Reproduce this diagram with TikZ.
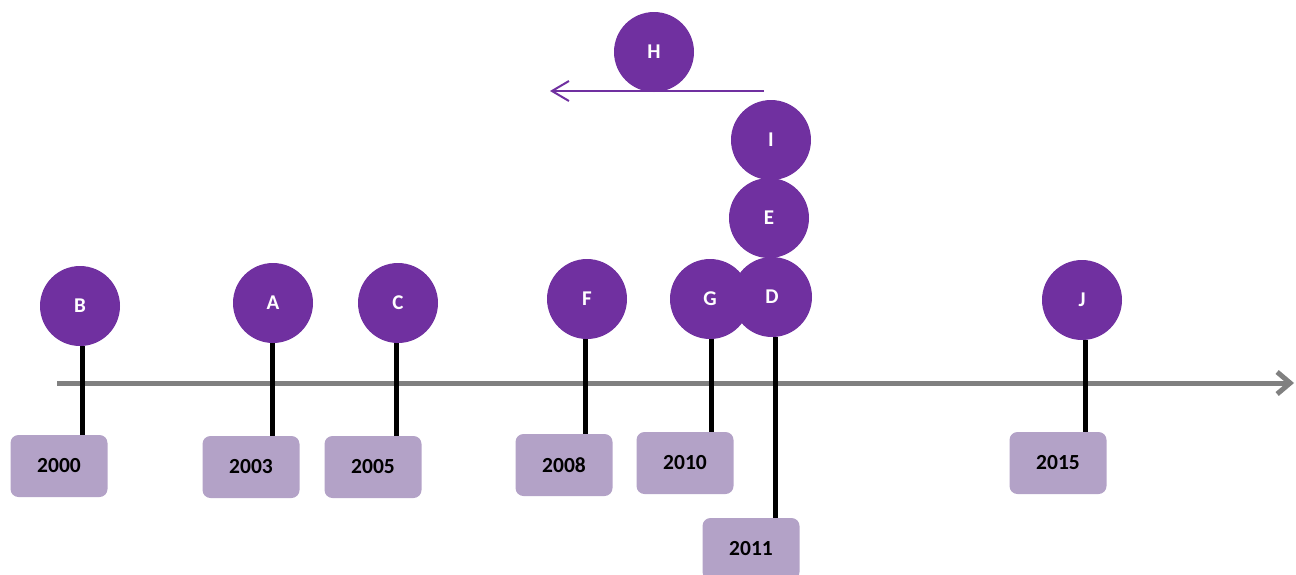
\documentclass[tikz,border=0pt]{standalone}
\usepackage{fontspec}
\setmainfont{Carlito}
\usetikzlibrary{arrows.meta,backgrounds}
\definecolor{eventpurple}{HTML}{7030A0}
\definecolor{yearlilac}{HTML}{B3A2C7}
\definecolor{axisgray}{HTML}{808080}
\begin{document}
\begin{tikzpicture}[x=1pt, y=-1pt,
  event/.style={circle, fill=eventpurple, minimum size=80pt, inner sep=0pt,
    text=white, font=\fontsize{21}{24}\selectfont\bfseries},
  year/.style={rectangle, rounded corners=8pt, fill=yearlilac, minimum width=97pt,
    minimum height=62pt, inner sep=0pt, font=\fontsize{21.5}{24}\selectfont\bfseries},
  stem/.style={line width=5pt, black}]
  \useasboundingbox (0,0) rectangle (1296,574);
  % year boxes
  \node[year] (y2000) at (59,466) {2000};
  \node[year] (y2003) at (251,467) {2003};
  \node[year] (y2005) at (373,467) {2005};
  \node[year] (y2008) at (564,465) {2008};
  \node[year] (y2010) at (685,463) {2010};
  \node[year] (y2011) at (751,549) {2011};
  \node[year] (y2015) at (1058,463) {2015};
  % events
  \node[event] (B) at (80,306) {B};
  \node[event] (A) at (273,303) {A};
  \node[event] (C) at (398,303) {C};
  \node[event] (F) at (587,299) {F};
  \node[event] (G) at (710,299) {G};
  \node[event] (D) at (772,297) {D};
  \node[event] (E) at (769,218) {E};
  \node[event] (I) at (771,140) {I};
  \node[event] (H) at (654,52) {H};
  \node[event] (J) at (1082,300) {J};
  \begin{pgfonlayer}{background}
    % time axis
    \coordinate (axisL) at (57,383);
    \coordinate (axisR) at (1294,383);
    \draw[line width=5pt, axisgray, -{Straight Barb[length=13pt, width=22pt]}] (axisL) -- (axisR);
    % stems
    \draw[stem] ([xshift=2pt]B.south) -- ([xshift=2pt]B.south |- y2000.north);
    \draw[stem] ([xshift=-1pt]A.south) -- ([xshift=-1pt]A.south |- y2003.north);
    \draw[stem] ([xshift=-2pt]C.south) -- ([xshift=-2pt]C.south |- y2005.north);
    \draw[stem] ([xshift=-2pt]F.south) -- ([xshift=-2pt]F.south |- y2008.north);
    \draw[stem] ([xshift=1pt]G.south) -- ([xshift=1pt]G.south |- y2010.north);
    \draw[stem] ([xshift=3pt]D.south) -- ([xshift=3pt]D.south |- y2011.north);
    \draw[stem] ([xshift=3pt]J.south) -- ([xshift=3pt]J.south |- y2015.north);
    % backwards arrow under H
    \coordinate (hfrom) at (764,91);
    \coordinate (hto) at (550,91);
    \draw[line width=2pt, eventpurple, -{Straight Barb[length=17pt, width=20pt]}] (hfrom) -- (hto);
  \end{pgfonlayer}
\end{tikzpicture}
\end{document}
